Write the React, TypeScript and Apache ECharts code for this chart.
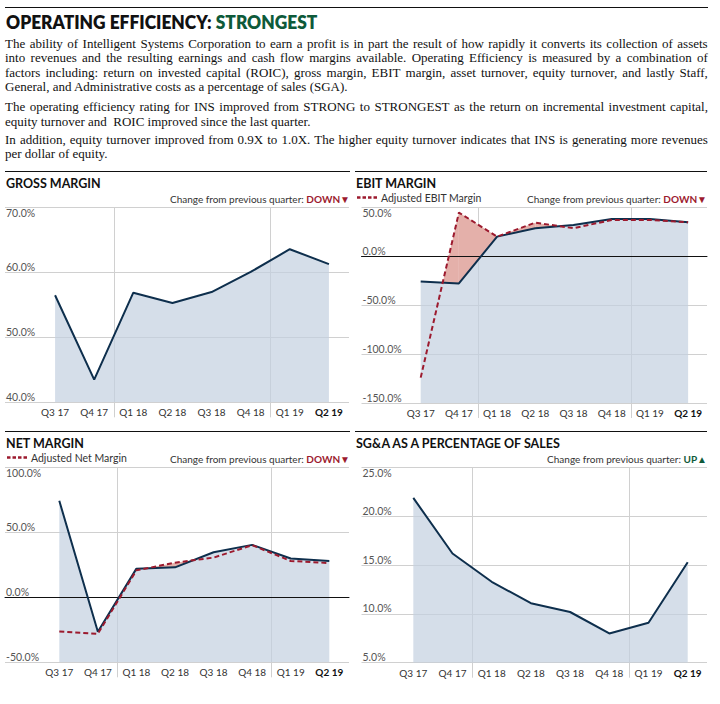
import React, { useEffect, useRef } from "react";
import * as echarts from "echarts";

// ---------- data ----------
const quarters = ["Q3 17", "Q4 17", "Q1 18", "Q2 18", "Q3 18", "Q4 18", "Q1 19", "Q2 19"];
const grossMargin = [56.5, 43.5, 56.9, 55.3, 57.0, 60.1, 63.6, 61.3];
const ebitMargin = [-25.5, -27.5, 20.4, 29.0, 32.3, 38.5, 38.5, 35.0];
const adjustedEbitMargin = [-124.0, 45.0, 20.4, 34.7, 29.0, 37.4, 37.4, 35.0];
const netMargin = [74.5, -26.5, 22.2, 23.2, 34.8, 40.5, 30.0, 28.1];
const adjustedNetMargin = [-26.3, -28.0, 20.9, 26.8, 30.7, 40.3, 28.1, 26.5];
const sgaPctOfSales = [21.9, 16.2, 13.3, 11.1, 10.2, 8.0, 9.1, 15.3];

const grossTicks = [40, 50, 60, 70];
const ebitTicks = [-150, -100, -50, 0, 50];
const netTicks = [-50, 0, 50, 100];
const sgaTicks = [5, 10, 15, 20, 25];

const headline = "OPERATING EFFICIENCY: ";
const rating = "STRONGEST";
const paragraphs = [
  [
    "The ability of Intelligent Systems Corporation to earn a profit is in part the result of how rapidly it converts its collection of assets",
    "into revenues and the resulting earnings and cash flow margins available. Operating Efficiency is measured by a combination of",
    "factors including: return on invested capital (ROIC), gross margin, EBIT margin, asset turnover, equity turnover, and lastly Staff,",
    "General, and Administrative costs as a percentage of sales (SGA).",
  ],
  [
    "The operating efficiency rating for INS improved from STRONG to STRONGEST as the return on incremental investment capital,",
    "equity turnover and  ROIC improved since the last quarter.",
  ],
  [
    "In addition, equity turnover improved from 0.9X to 1.0X. The higher equity turnover indicates that INS is generating more revenues",
    "per dollar of equity.",
  ],
];

// ---------- style ----------
const SANS = "Lato, 'Open Sans', sans-serif";
const SERIF = "'Liberation Serif', 'DejaVu Serif', serif";
const NAVY = "#0e2f4d";
const RED = "#9c1a2e";
const GREEN = "#0e5a3a";
const GRID_C = "#d0d0d0";

type Panel = {
  title: string;
  change: "DOWN" | "UP";
  legend?: string;
  solid: number[];
  adj?: number[];
  ticks: number[];
  x0: number; x1: number; ruleY: number;
  bgLeft: number; bgWidth: number;
  dataLeft: number; dataWidth: number;
  top: number; height: number;
};

const panels: Panel[] = [
  {
    title: "GROSS MARGIN", change: "DOWN", solid: grossMargin, ticks: grossTicks,
    x0: 5, x1: 350, ruleY: 171,
    bgLeft: 5, bgWidth: 344, dataLeft: 35.5, dataWidth: 313, top: 207.7, height: 194.6,
  },
  {
    title: "EBIT MARGIN", change: "DOWN", legend: "Adjusted EBIT Margin", solid: ebitMargin, adj: adjustedEbitMargin, ticks: ebitTicks,
    x0: 355, x1: 707, ruleY: 171,
    bgLeft: 361.5, bgWidth: 345.5, dataLeft: 401.6, dataWidth: 305.6, top: 207.7, height: 195.3,
  },
  {
    title: "NET MARGIN", change: "DOWN", legend: "Adjusted Net Margin", solid: netMargin, adj: adjustedNetMargin, ticks: netTicks,
    x0: 5, x1: 350, ruleY: 431,
    bgLeft: 5, bgWidth: 344, dataLeft: 40, dataWidth: 308.6, top: 467.7, height: 194.6,
  },
  {
    title: "SG&A AS A PERCENTAGE OF SALES", change: "UP", solid: sgaPctOfSales, ticks: sgaTicks,
    x0: 355, x1: 707, ruleY: 431,
    bgLeft: 361.5, bgWidth: 345.5, dataLeft: 393.7, dataWidth: 313.6, top: 467.7, height: 195,
  },
];

const fmtPct = (v: number) => v.toFixed(1) + "%";

function buildOption() {
  const grid: any[] = [];
  const xAxis: any[] = [];
  const yAxis: any[] = [];
  const series: any[] = [];
  const graphic: any[] = [];
  const last = quarters.length - 1;
  const yearStarts = quarters
    .map((q, i) => (q.startsWith("Q1") && i > 0 ? i : -1))
    .filter((i) => i > 0);

  panels.forEach((p, k) => {
    const bg = 2 * k;
    const dg = 2 * k + 1;
    const min = p.ticks[0];
    const max = p.ticks[p.ticks.length - 1];
    const interval = p.ticks[1] - p.ticks[0];

    grid.push({ left: p.bgLeft, width: p.bgWidth, top: p.top, height: p.height });
    grid.push({ left: p.dataLeft, width: p.dataWidth, top: p.top, height: p.height });

    xAxis.push({
      gridIndex: bg, type: "value", min: 0, max: 1, z: 3,
      axisLabel: { show: false }, axisTick: { show: false }, splitLine: { show: false },
      axisLine: { show: min < 0 && max > 0, onZero: true, lineStyle: { color: "#111", width: 1 } },
    });
    xAxis.push({
      gridIndex: dg, type: "category", data: quarters, boundaryGap: true,
      axisLine: { show: false }, axisTick: { show: false }, splitLine: { show: false },
      axisLabel: {
        interval: 0, margin: 5, fontSize: 10, color: "#333", fontFamily: SANS,
        formatter: (v: string, i: number) => (i === last ? `{b|${v}}` : v),
        rich: { b: { fontWeight: "bold", color: "#111", fontSize: 10, fontFamily: SANS } },
      },
    });

    yAxis.push({
      gridIndex: bg, type: "value", min, max, interval, position: "left",
      axisLine: { show: false }, axisTick: { show: false },
      splitLine: { show: true, lineStyle: { color: GRID_C, width: 1 } },
      axisLabel: {
        inside: true, margin: 1, verticalAlign: "bottom", showMaxLabel: false,
        color: "#555", fontSize: 10.5, fontFamily: SANS, formatter: fmtPct,
      },
    });
    yAxis.push({
      gridIndex: dg, type: "value", min, max, interval, position: "left",
      axisLine: { show: false }, axisTick: { show: false }, splitLine: { show: false },
      axisLabel: {
        inside: false, align: "left", margin: p.dataLeft - p.bgLeft - 1, verticalAlign: "top",
        color: "#555", fontSize: 10.5, fontFamily: SANS,
        formatter: (v: number) => (v === max ? fmtPct(v) : ""),
      },
    });

    // year boundary lines
    series.push({
      type: "custom", xAxisIndex: dg, yAxisIndex: dg, z: 1, silent: true, clip: false,
      data: yearStarts.map((i) => [i, max]),
      encode: { x: 0, y: 1 },
      renderItem: (params: any, api: any) => {
        const i = api.value(0);
        const cur = api.coord([i, max]);
        const prev = api.coord([i - 1, max]);
        const bottom = api.coord([i, min]);
        const x = Math.round((prev[0] + cur[0]) / 2) + 0.5;
        return {
          type: "line",
          shape: { x1: x, y1: cur[1], x2: x, y2: bottom[1] + 15 },
          style: { stroke: GRID_C, lineWidth: 1 },
        };
      },
    });

    // blue area under main series
    series.push({
      type: "line", xAxisIndex: dg, yAxisIndex: dg, data: p.solid, symbol: "none", silent: true,
      lineStyle: { width: 0, opacity: 0 },
      areaStyle: { color: "#c3d0e0", opacity: 0.7, origin: "start" },
    });

    if (p.adj) {
      const adj = p.adj;
      series.push({
        type: "custom", xAxisIndex: dg, yAxisIndex: dg, silent: true,
        data: quarters.slice(0, -1).map((_, i) => [i, adj[i], p.solid[i], adj[i + 1], p.solid[i + 1]]),
        encode: { x: 0, y: [1, 2, 3, 4] },
        renderItem: (params: any, api: any) => {
          const i = api.value(0);
          const a0 = api.coord([i, api.value(1)]);
          const s0 = api.coord([i, api.value(2)]);
          const a1 = api.coord([i + 1, api.value(3)]);
          const s1 = api.coord([i + 1, api.value(4)]);
          const d0 = s0[1] - a0[1];
          const d1 = s1[1] - a1[1];
          let pts: number[][] | null = null;
          if (d0 >= 0 && d1 >= 0) pts = [a0, a1, s1, s0];
          else if (d0 < 0 && d1 > 0) {
            const t = d0 / (d0 - d1);
            const c = [a0[0] + (a1[0] - a0[0]) * t, a0[1] + (a1[1] - a0[1]) * t];
            pts = [c, a1, s1];
          } else if (d0 > 0 && d1 < 0) {
            const t = d0 / (d0 - d1);
            const c = [a0[0] + (a1[0] - a0[0]) * t, a0[1] + (a1[1] - a0[1]) * t];
            pts = [a0, c, s0];
          }
          if (!pts) return { type: "group", children: [] };
          return { type: "polygon", shape: { points: pts }, style: { fill: "#e4b0aa" } };
        },
      });
    }

    series.push({
      type: "line", xAxisIndex: dg, yAxisIndex: dg, data: p.solid, symbol: "none", silent: true,
      lineStyle: { color: NAVY, width: 2 },
    });
    if (p.adj) {
      series.push({
        type: "line", xAxisIndex: dg, yAxisIndex: dg, data: p.adj, symbol: "none", silent: true,
        lineStyle: { color: RED, width: 2, type: [5, 3] },
      });
    }

    // panel decorations
    graphic.push({
      type: "line", silent: true,
      shape: { x1: p.x0, y1: p.ruleY + 0.5, x2: p.x1, y2: p.ruleY + 0.5 },
      style: { stroke: "#111", lineWidth: 1 },
    });
    graphic.push({
      type: "text", x: p.x0 + 1, y: p.ruleY + 12.5, silent: true,
      style: {
        text: p.title, fontSize: 12.5, fontWeight: "bold", fontFamily: SANS, fill: "#111",
        align: "left", verticalAlign: "middle",
      },
    });
    const up = p.change === "UP";
    graphic.push({
      type: "text", x: p.x1, y: p.ruleY + 28, silent: true,
      style: {
        text: `Change from previous quarter: {d|${p.change}${up ? "▲" : "▼"}}`,
        fontSize: 10, fontFamily: SANS, fill: "#333", align: "right", verticalAlign: "middle",
        rich: { d: { fontSize: 10, fontWeight: "bold", fontFamily: SANS, fill: up ? GREEN : RED } },
      },
    });
    if (p.legend) {
      graphic.push({
        type: "line", silent: true,
        shape: { x1: p.x0 + 2, y1: p.ruleY + 26.5, x2: p.x0 + 22, y2: p.ruleY + 26.5 },
        style: { stroke: RED, lineWidth: 2.5, lineDash: [3.5, 2] },
      });
      graphic.push({
        type: "text", x: p.x0 + 26, y: p.ruleY + 26.5, silent: true,
        style: {
          text: p.legend, fontSize: 10.5, fontFamily: SANS, fill: "#333",
          align: "left", verticalAlign: "middle",
        },
      });
    }
  });

  return { animation: false, grid, xAxis, yAxis, series, graphic };
}

const lineFont: React.CSSProperties = {
  fontFamily: SERIF, fontSize: 13, lineHeight: "14.4px", color: "#111", whiteSpace: "pre",
};
const paraTops = [36.7, 100.1, 132.7];

export default function App() {
  const ref = useRef<HTMLDivElement>(null);
  useEffect(() => {
    if (!ref.current) return;
    const chart = echarts.init(ref.current, null, { renderer: "svg" });
    chart.setOption(buildOption() as any);
    return () => chart.dispose();
  }, []);

  const lines: React.ReactNode[] = [];
  paragraphs.forEach((para, pi) => {
    para.forEach((text, li) => {
      const top = paraTops[pi] + li * 14.4;
      const isLast = li === para.length - 1;
      if (isLast) {
        lines.push(
          <div key={`${pi}-${li}`} style={{ ...lineFont, position: "absolute", left: 5, top }}>{text}</div>
        );
      } else {
        lines.push(
          <div
            key={`${pi}-${li}`}
            style={{ ...lineFont, position: "absolute", left: 5, top, width: 703, display: "flex", justifyContent: "space-between" }}
          >
            {text.split(" ").map((w, wi) => <span key={wi}>{w}</span>)}
          </div>
        );
      }
    });
  });

  return (
    <div style={{ position: "absolute", left: 0, top: 0, width: 720, height: 704, background: "#fff", overflow: "hidden" }}>
      <div ref={ref} style={{ position: "absolute", left: 0, top: 0, width: 720, height: 704 }} />
      <div style={{ position: "absolute", left: 5, top: 7, width: 703, borderTop: "1.5px solid #111" }} />
      <div
        style={{
          position: "absolute", left: 6, top: 11.5, fontFamily: SANS, fontWeight: 800, fontSize: 19.5,
          lineHeight: "20px", color: "#111", whiteSpace: "pre",
          transform: "scaleX(0.89)", transformOrigin: "0 0",
        }}
      >
        {headline}
        <span style={{ color: GREEN }}>{rating}</span>
      </div>
      {lines}
    </div>
  );
}
